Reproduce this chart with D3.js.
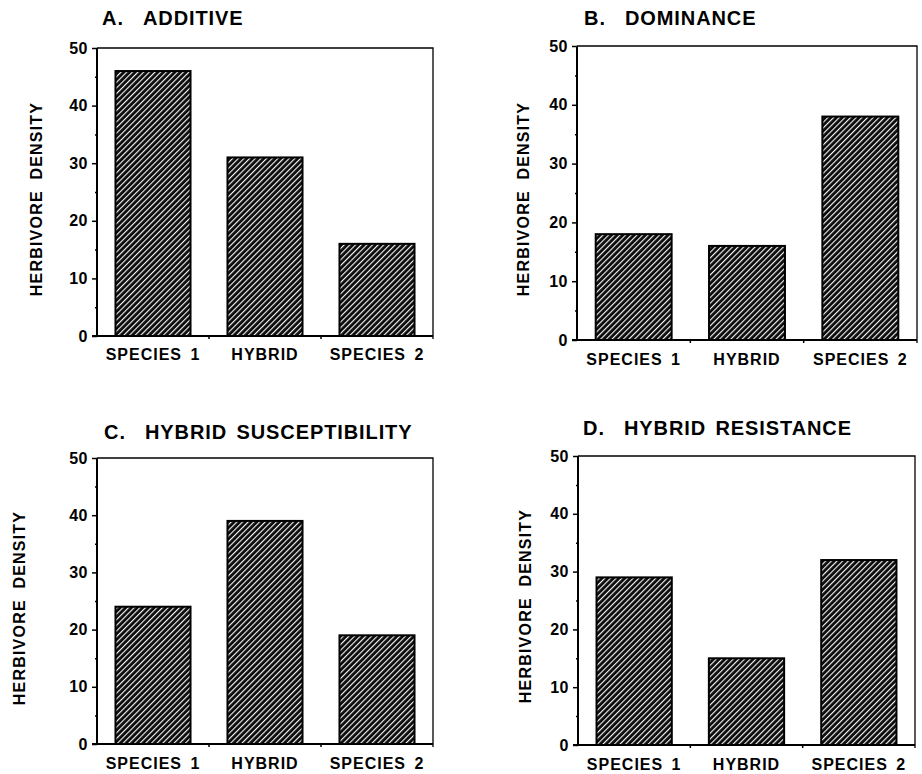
<!DOCTYPE html>
<html>
<head>
<meta charset="utf-8">
<script src="https://cdn.jsdelivr.net/npm/d3@7"></script>
<style>
  html, body { margin: 0; padding: 0; background: #fff; }
  svg { display: block; }
  text { font-family: "Liberation Sans", Arial, Helvetica, sans-serif; font-weight: bold; fill: #000; }
</style>
</head>
<body>
<svg id="chart" width="922" height="774"></svg>
<script>
// ---- data ----
const categories = ["SPECIES 1", "HYBRID", "SPECIES 2"];
const panelLetters = ["A.", "B.", "C.", "D."];
const panelNames = ["ADDITIVE", "DOMINANCE", "HYBRID SUSCEPTIBILITY", "HYBRID RESISTANCE"];
const additive = [46, 31, 16];
const dominance = [18, 16, 38];
const susceptibility = [24, 39, 19];
const resistance = [29, 15, 32];
const yMajorTicks = [0, 10, 20, 30, 40, 50];
const yMinorTicks = [5, 15, 25, 35, 45];
const yLabel = "HERBIVORE DENSITY";

// ---- layout (frame of each panel) ----
const frames = [
  { left: 97,  right: 433, top: 48,  bottom: 336, titleX: 102, titleY: 25,  ylabX: 36,  ylabY: 199, catY: 360 },
  { left: 577, right: 917, top: 46,  bottom: 340, titleX: 584, titleY: 25,  ylabX: 523, ylabY: 199, catY: 365 },
  { left: 97,  right: 433, top: 458, bottom: 744, titleX: 104, titleY: 439, ylabX: 19,  ylabY: 608, catY: 769 },
  { left: 578, right: 915, top: 456, bottom: 745, titleX: 583, titleY: 435, ylabX: 525, ylabY: 606, catY: 770 }
];
const series = [additive, dominance, susceptibility, resistance];

const svg = d3.select("#chart");

// hatch: white diagonal lines on black
const defs = svg.append("defs");
const pat = defs.append("pattern")
  .attr("id", "hatch")
  .attr("patternUnits", "userSpaceOnUse")
  .attr("width", 4).attr("height", 4)
  .attr("patternTransform", "rotate(45)");
pat.append("rect").attr("width", 4).attr("height", 4).attr("fill", "#0a0a0a");
pat.append("rect").attr("x", 0).attr("width", 1.15).attr("height", 4).attr("fill", "#f4f4f4");

function drawPanel(i){
  const f = frames[i];
  const values = series[i];
  const g = svg.append("g");

  const x = d3.scaleBand().domain(categories).range([f.left, f.right])
    .paddingInner(0.33).paddingOuter(0.165);
  const y = d3.scaleLinear().domain([0, 50]).range([f.bottom, f.top]);

  // title
  g.append("text").attr("x", f.titleX).attr("y", f.titleY)
    .attr("font-size", 20).attr("letter-spacing", 1).text(panelLetters[i]);
  g.append("text").attr("x", f.titleX + 41).attr("y", f.titleY)
    .attr("font-size", 20).attr("letter-spacing", 0.9).attr("word-spacing", 3)
    .text(panelNames[i]);

  // frame: thin top/right
  g.append("path")
    .attr("d", `M${f.left},${f.top}H${f.right}V${f.bottom + 3}`)
    .attr("fill", "none").attr("stroke", "#000").attr("stroke-width", 1.3);

  // bars
  g.selectAll("rect.bar").data(values).join("rect")
    .attr("class", "bar")
    .attr("x", (d, k) => x(categories[k]))
    .attr("width", x.bandwidth())
    .attr("y", d => y(d))
    .attr("height", d => y(0) - y(d))
    .attr("fill", "url(#hatch)")
    .attr("stroke", "#000").attr("stroke-width", 2);

  // y axis major
  const ya = g.append("g").attr("transform", `translate(${f.left},0)`)
    .call(d3.axisLeft(y).tickValues(yMajorTicks).tickSize(5).tickPadding(4).tickFormat(d3.format("d")));
  ya.select(".domain").attr("stroke-width", 2).attr("d", `M0,${f.top}V${f.bottom}`);
  ya.selectAll(".tick line").attr("stroke-width", 1.5);
  ya.selectAll(".tick text")
    .attr("font-size", 16).attr("letter-spacing", 0.5)
    .attr("font-family", "Liberation Sans, Arial, sans-serif").attr("font-weight", "bold");

  // y axis minor
  const ym = g.append("g").attr("transform", `translate(${f.left},0)`)
    .call(d3.axisLeft(y).tickValues(yMinorTicks).tickSize(2).tickFormat(""));
  ym.select(".domain").remove();
  ym.selectAll(".tick line").attr("stroke-width", 1.5);

  // x axis: line + ticks at category boundaries
  g.append("line")
    .attr("x1", f.left - 5).attr("x2", f.right)
    .attr("y1", f.bottom).attr("y2", f.bottom)
    .attr("stroke", "#000").attr("stroke-width", 2);
  const gap = x.step() * x.paddingInner() / 2;
  const bounds = categories.slice(1).map(c => x(c) - gap);
  g.selectAll("line.xt").data(bounds).join("line")
    .attr("class", "xt")
    .attr("x1", d => d).attr("x2", d => d)
    .attr("y1", f.bottom).attr("y2", f.bottom + 3)
    .attr("stroke", "#000").attr("stroke-width", 1.5);

  // category labels
  g.selectAll("text.cat").data(categories).join("text")
    .attr("class", "cat")
    .attr("x", d => x(d) + x.bandwidth() / 2)
    .attr("y", f.catY)
    .attr("text-anchor", "middle")
    .attr("font-size", 16).attr("letter-spacing", 1).attr("word-spacing", 3)
    .text(d => d);

  // y label
  g.append("text")
    .attr("transform", `translate(${f.ylabX},${f.ylabY}) rotate(-90)`)
    .attr("text-anchor", "middle").attr("dominant-baseline", "central")
    .attr("font-size", 16).attr("letter-spacing", 1.2).attr("word-spacing", 5)
    .text(yLabel);
}

frames.forEach((_, i) => drawPanel(i));
</script>
</body>
</html>
